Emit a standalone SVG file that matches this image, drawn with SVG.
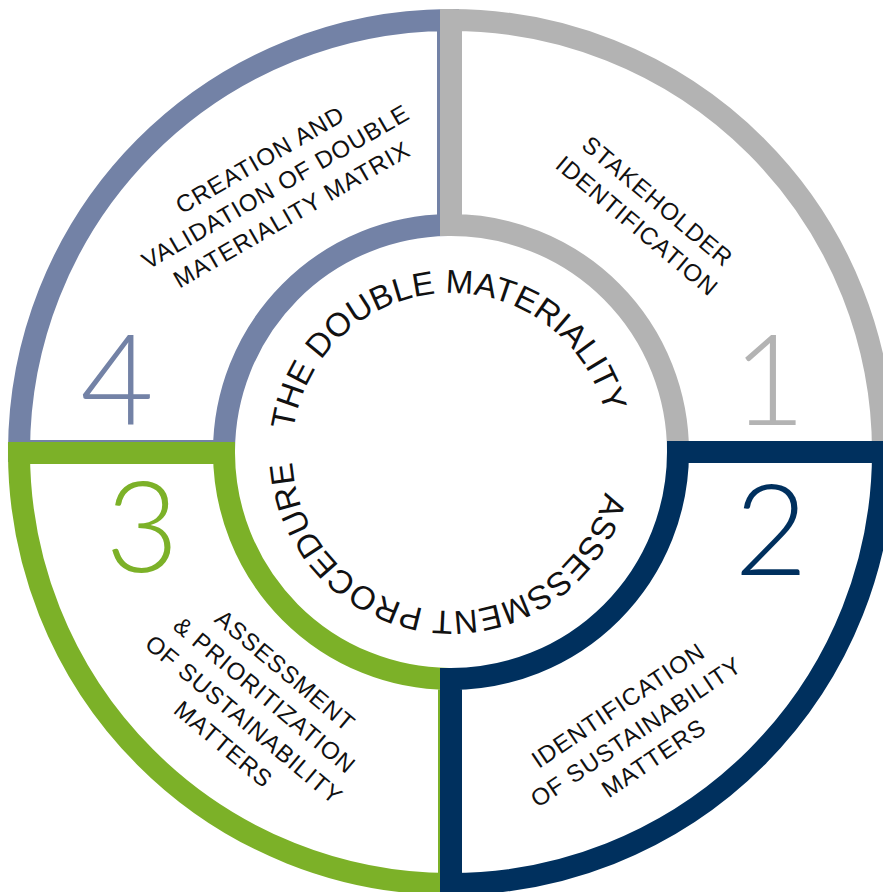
<svg xmlns="http://www.w3.org/2000/svg" width="883" height="892" viewBox="0 0 883 892">
  <defs>
    <style>
      .band { fill: none; stroke-width: 22; stroke-linejoin: miter; }
      .q1 { stroke: #b3b3b3; }
      .q2 { stroke: #00305e; }
      .q3 { stroke: #7cb128; }
      .q4 { stroke: #7382a6; }
      .num { font-family: "Lato", "Liberation Sans", sans-serif; font-weight: 300; font-size: 127px; text-anchor: middle; }
      .label { font-family: "Liberation Sans", Arial, sans-serif; font-size: 24px; letter-spacing: 1px; fill: #111; text-anchor: middle; }
      .ring-text { font-family: "Liberation Sans", Arial, sans-serif; font-size: 33px; letter-spacing: 0.2px; fill: #111; }
    </style>
    <!-- clockwise circle starting at the left point, baseline for the centre title -->
    <path id="titleCircle" d="M 292,452 A 159 159 0 1 1 610,452 A 159 159 0 1 1 292,452"/>
  </defs>

  <rect width="883" height="892" fill="#ffffff"/>

  <!-- quadrant 4: creation and validation of the matrix (top-left) -->
  <g id="step4">
    <path class="band q4" d="M 19,451 A 432 432 0 0 1 448,20 L 448,225 A 227 227 0 0 0 224,451 Z"/>
    <text class="num" x="117" y="425" fill="#7382a6">4</text>
    <g class="label" transform="translate(275.5,186.5) rotate(-30)">
      <text x="0" y="-22.5">CREATION AND</text>
      <text x="0" y="8.5">VALIDATION OF DOUBLE</text>
      <text x="0" y="40.5">MATERIALITY MATRIX</text>
    </g>
  </g>

  <!-- quadrant 3: assessment and prioritization (bottom-left) -->
  <g id="step3">
    <path class="band q3" d="M 449,884 A 432 432 0 0 1 19,453 L 224,453 A 227 227 0 0 0 449,679 Z"/>
    <text class="num" x="142" y="572" fill="#7cb128">3</text>
    <g class="label" transform="translate(254.5,707.3) rotate(40)">
      <text x="0" y="-39.5">ASSESSMENT</text>
      <text x="0" y="-7.5">&amp; PRIORITIZATION</text>
      <text x="0" y="24.5">OF SUSTAINABILITY</text>
      <text x="0" y="56.5">MATTERS</text>
    </g>
  </g>

  <!-- quadrant 1: stakeholder identification (top-right) -->
  <g id="step1">
    <path class="band q1" d="M 451,20 A 432 432 0 0 1 883,452 L 678,452 A 227 227 0 0 0 451,225 Z"/>
    <text class="num" x="769" y="425" fill="#b3b3b3">1</text>
    <g class="label" transform="translate(647.5,213.5) rotate(40)">
      <text x="0" y="-7.5">STAKEHOLDER</text>
      <text x="0" y="24.5">IDENTIFICATION</text>
    </g>
  </g>

  <!-- quadrant 2: identification of sustainability matters (bottom-right) -->
  <g id="step2">
    <path class="band q2" d="M 883,452 A 432 432 0 0 1 451,884 L 451,679 A 227 227 0 0 0 678,452 Z"/>
    <text class="num" x="771" y="575" fill="#00305e">2</text>
    <g class="label" transform="translate(636,731.7) rotate(-34)">
      <text x="0" y="-23.5">IDENTIFICATION</text>
      <text x="0" y="8.5">OF SUSTAINABILITY</text>
      <text x="0" y="40">MATTERS</text>
    </g>
  </g>

  <!-- centre title running clockwise round the inner ring -->
  <g id="title" class="ring-text">
    <text><textPath href="#titleCircle" startOffset="21.6">THE DOUBLE MATERIALITY</textPath></text>
    <text><textPath href="#titleCircle" startOffset="540">ASSESSMENT PROCEDURE</textPath></text>
  </g>
</svg>
